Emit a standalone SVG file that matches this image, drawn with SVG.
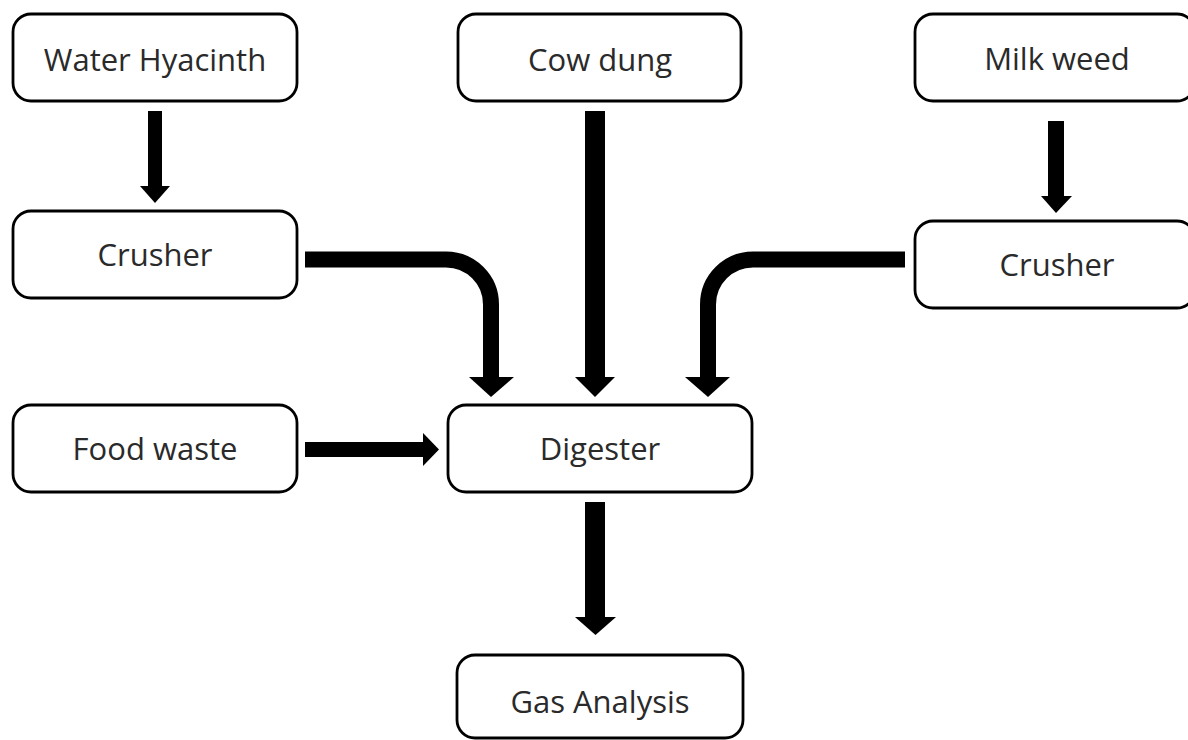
<svg xmlns="http://www.w3.org/2000/svg" width="1188" height="740" viewBox="0 0 1188 740">
<style>
.box{fill:#fff;stroke:#000;stroke-width:2.8}
.lbl{font-family:"Open Sans","Noto Sans",sans-serif;font-size:31px;fill:#2a2a2a;text-anchor:middle}
.shaft{fill:none;stroke:#000;stroke-linecap:butt}
.head{fill:#000}
</style>
<rect width="1188" height="740" fill="#fff"/>
<g id="connectors">
<path class="shaft" stroke-width="14" d="M155,111 V187"/>
<polygon class="head" points="140,186 170,186 155,203"/>
<path class="shaft" stroke-width="20" d="M595,111 V378"/>
<polygon class="head" points="575,377 615,377 595,397"/>
<path class="shaft" stroke-width="16" d="M1056,121 V197"/>
<polygon class="head" points="1041,196 1072,196 1056,213"/>
<path class="shaft" stroke-width="16" d="M305,259.5 H446 A45,45 0 0 1 491,304.5 V378"/>
<polygon class="head" points="469,377 514,377 491,397"/>
<path class="shaft" stroke-width="16" d="M905,259.5 H753 A45,45 0 0 0 708,304.5 V378"/>
<polygon class="head" points="685,377 730,377 708,397"/>
<path class="shaft" stroke-width="15" d="M305,449.5 H424"/>
<polygon class="head" points="423,433 423,466 439,449.5"/>
<path class="shaft" stroke-width="20" d="M595,502 V618"/>
<polygon class="head" points="575,617 616,617 595.5,635"/>
</g>
<g id="water-hyacinth"><rect class="box" x="13" y="14" width="284" height="87" rx="18"/><text class="lbl" x="155" y="71">Water Hyacinth</text></g>
<g id="cow-dung"><rect class="box" x="458" y="14" width="283" height="87" rx="18"/><text class="lbl" x="600" y="71">Cow dung</text></g>
<g id="milk-weed"><rect class="box" x="915" y="14" width="280" height="87" rx="18"/><text class="lbl" x="1057" y="70">Milk weed</text></g>
<g id="crusher-left"><rect class="box" x="13" y="211" width="284" height="87" rx="18"/><text class="lbl" x="155" y="266">Crusher</text></g>
<g id="crusher-right"><rect class="box" x="915" y="221" width="280" height="87" rx="18"/><text class="lbl" x="1057" y="276">Crusher</text></g>
<g id="food-waste"><rect class="box" x="13" y="405" width="284" height="87" rx="18"/><text class="lbl" x="155" y="460">Food waste</text></g>
<g id="digester"><rect class="box" x="448" y="405" width="304" height="87" rx="18"/><text class="lbl" x="600" y="460">Digester</text></g>
<g id="gas-analysis"><rect class="box" x="457" y="655" width="286" height="83" rx="18"/><text class="lbl" x="600" y="713">Gas Analysis</text></g>
</svg>
